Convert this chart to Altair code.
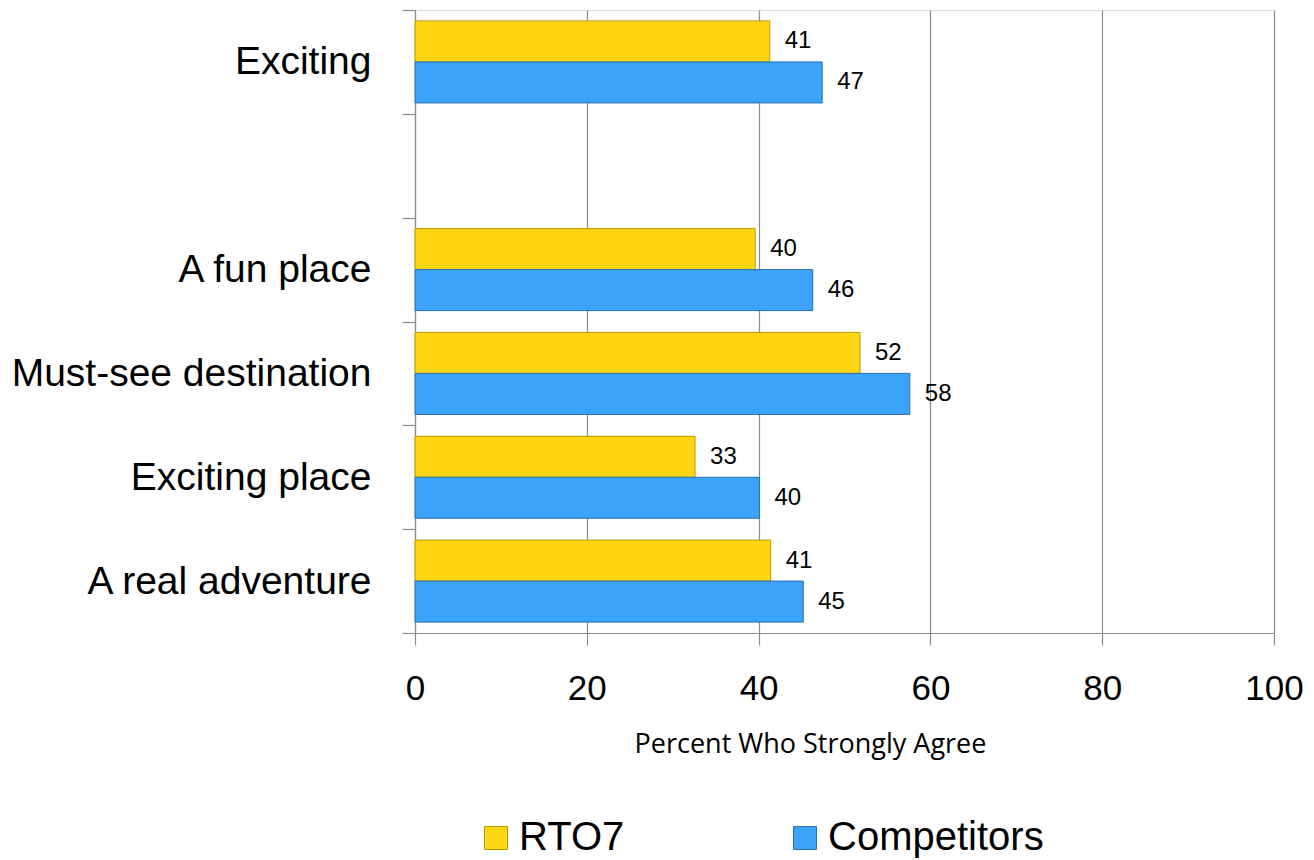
import altair as alt
import pandas as pd

categories = ["Exciting", " ", "A fun place", "Must-see destination", "Exciting place", "A real adventure"]
data_categories = ["Exciting", "A fun place", "Must-see destination", "Exciting place", "A real adventure"]
series = ["RTO7", "Competitors"]
rto7_values = [41.3, 39.6, 51.8, 32.6, 41.4]
competitor_values = [47.4, 46.3, 57.6, 40.1, 45.2]
x_ticks = [0, 20, 40, 60, 80, 100]
colors = ["#FFD514", "#3BA3FA"]
strokes = ["#B89A00", "#2A6FB0"]

rows = []
for c, r, k in zip(data_categories, rto7_values, competitor_values):
    rows.append({"category": c, "series": "RTO7", "value": r})
    rows.append({"category": c, "series": "Competitors", "value": k})
df = pd.DataFrame(rows)

y_enc = alt.Y(
    "category:N",
    sort=categories,
    scale=alt.Scale(domain=categories, paddingInner=0, paddingOuter=0),
    axis=alt.Axis(
        title=None,
        labelFont="Liberation Sans",
        labelFontSize=39,
        labelColor="#000000",
        labelPadding=31,
        labelLimit=600,
        tickBand="extent",
        tickSize=13,
        tickColor="#8c8c8c",
        tickWidth=1.2,
        domainColor="#8c8c8c",
        domainWidth=1.2,
        grid=False,
    ),
)
yoff = alt.YOffset("series:N", sort=series, scale=alt.Scale(domain=series, paddingInner=0, paddingOuter=0.266))
x_enc = alt.X(
    "value:Q",
    scale=alt.Scale(domain=[0, 100], nice=False),
    axis=alt.Axis(
        values=x_ticks,
        title="Percent Who Strongly Agree",
        titleFont="Open Sans",
        titleFontSize=27,
        titleFontWeight="normal",
        titleColor="#000000",
        titleX=395,
        titleY=111,
        titleBaseline="middle",
        labelFont="Liberation Sans",
        labelFontSize=35,
        labelColor="#000000",
        labelPadding=26,
        labelFlush=False,
        labelOverlap=False,
        tickSize=12,
        tickColor="#8c8c8c",
        tickWidth=1.2,
        domainColor="#8c8c8c",
        domainWidth=1.2,
        grid=True,
        gridColor="#8c8c8c",
        gridWidth=1.2,
    ),
)

bars = alt.Chart(df).mark_bar(strokeWidth=1).encode(
    x=x_enc,
    y=y_enc,
    yOffset=yoff,
    color=alt.Color(
        "series:N",
        sort=series,
        scale=alt.Scale(domain=series, range=colors),
        legend=alt.Legend(
            title=None,
            orient="none",
            direction="horizontal",
            legendX=61,
            legendY=808,
            padding=0,
            symbolType="square",
            symbolSize=530,
            symbolStrokeWidth=1,
            labelFont="Liberation Sans",
            labelFontSize=40,
            labelColor="#000000",
            labelOffset=3,
            columnPadding=160,
            labelLimit=400,
        ),
    ),
    stroke=alt.Stroke("series:N", sort=series, scale=alt.Scale(domain=series, range=strokes), legend=None),
)

labels = alt.Chart(df).mark_text(align="left", baseline="middle", dx=15, font="Liberation Sans", fontSize=24, color="#000000").encode(
    x=x_enc,
    y=y_enc,
    yOffset=yoff,
    text=alt.Text("value:Q", format=".0f"),
)

chart = (
    alt.layer(bars, labels)
    .properties(
        width=859,
        height=623,
        autosize=alt.AutoSizeParams(type="none"),
        padding={"left": 407, "top": 2, "right": 31, "bottom": 225},
    )
    .configure_view(strokeWidth=0)
    .configure(background="#ffffff")
)

chart.save("out.html", embed_options={"renderer": "svg", "actions": False})
